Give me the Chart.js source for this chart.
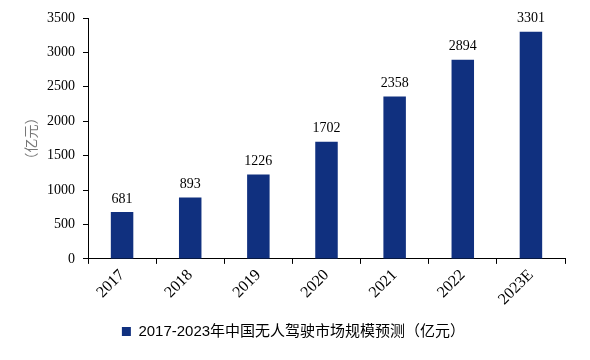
<!DOCTYPE html>
<html>
<head>
<meta charset="utf-8">
<script src="https://cdn.jsdelivr.net/npm/chart.js@4/dist/chart.umd.min.js"></script>
<style>
  body { margin: 0; background: #fff; }
  #wrap { width: 590px; height: 360px; }
</style>
</head>
<body>
<div id="wrap"><canvas id="marketChart"></canvas></div>
<script>
// years and market size (亿元)
const years = ['2017', '2018', '2019', '2020', '2021', '2022', '2023E'];
const marketSize = [681, 893, 1226, 1702, 2358, 2894, 3301];
const yTicks = [0, 500, 1000, 1500, 2000, 2500, 3000, 3500];

const serif = '"Times New Roman", "Liberation Serif", serif';

// draw value above each bar
const valueLabels = {
    id: 'valueLabels',
    afterDatasetsDraw(chart) {
        const ctx = chart.ctx;
        const meta = chart.getDatasetMeta(0);
        ctx.save();
        ctx.font = '14px ' + serif;
        ctx.fillStyle = '#000';
        ctx.textAlign = 'center';
        ctx.textBaseline = 'bottom';
        meta.data.forEach((bar, i) => {
            ctx.fillText(marketSize[i], bar.x, bar.y - 6);
        });
        ctx.restore();
    }
};

const ctx = document.getElementById('marketChart').getContext('2d');
new Chart(ctx, {
    type: 'bar',
    data: {
        labels: years,
        datasets: [
            {
                label: '2017-2023年中国无人驾驶市场规模预测（亿元）',
                data: marketSize,
                backgroundColor: '#10307f',
                categoryPercentage: 1,
                barPercentage: 0.33
            }
        ]
    },
    options: {
        responsive: true,
        maintainAspectRatio: false,
        animation: false,
        layout: { padding: { top: 18, right: 25, left: 22, bottom: 11 } },
        plugins: {
            tooltip: { enabled: false },
            legend: {
                position: 'bottom',
                labels: {
                    boxWidth: 9,
                    boxHeight: 9,
                    color: '#000',
                    padding: 13,
                    font: { size: 15, family: '"Liberation Sans", "Noto Sans CJK SC", sans-serif' }
                }
            }
        },
        scales: {
            x: {
                grid: { drawOnChartArea: false, offset: true, color: '#000', tickLength: 5 },
                border: { color: '#000', width: 1 },
                ticks: {
                    color: '#000',
                    maxRotation: 45,
                    minRotation: 45,
                    padding: 2,
                    font: { size: 16, family: serif }
                }
            },
            y: {
                min: 0,
                max: 3500,
                afterBuildTicks(scale) {
                    scale.ticks = yTicks.map(v => ({ value: v }));
                },
                afterFit(scale) { scale.width = 66; },
                grid: { drawOnChartArea: false, color: '#000', tickLength: 5 },
                border: { color: '#000', width: 1 },
                ticks: {
                    color: '#000',
                    padding: 8,
                    callback: v => String(v),
                    font: { size: 14, family: serif }
                },
                title: {
                    display: true,
                    text: '（亿元）',
                    color: '#777',
                    padding: { top: 0, bottom: 0 },
                    font: { size: 14, family: '"Noto Sans CJK SC", sans-serif' }
                }
            }
        }
    },
    plugins: [valueLabels]
});
</script>
</body>
</html>
